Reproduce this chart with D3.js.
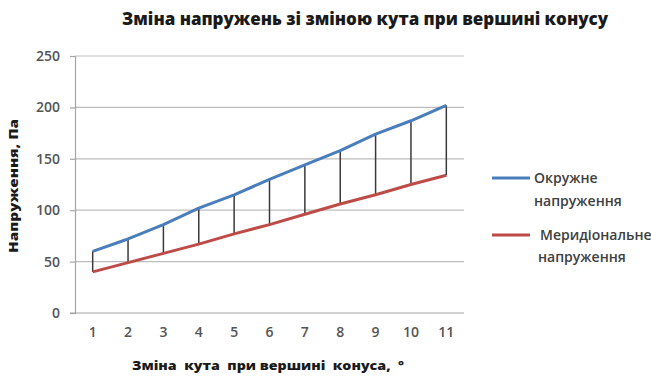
<!DOCTYPE html>
<html>
<head>
<meta charset="utf-8">
<script src="https://cdn.jsdelivr.net/npm/d3@7"></script>
<style>
  body { margin: 0; background: #fff; }
  text { font-family: "Open Sans", "Liberation Sans", sans-serif; }
</style>
</head>
<body>
<div id="chart"></div>
<script>
// Data
var angles = [1, 2, 3, 4, 5, 6, 7, 8, 9, 10, 11];
var hoop = [60, 72, 86, 102, 115, 130, 144, 158, 174, 187, 202];
var meridional = [40, 49, 58, 67, 77, 86, 96, 106, 115, 125, 134];
var yTicks = [0, 50, 100, 150, 200, 250];
var seriesNames = ["Окружне напруження", "Меридіональне напруження"];
var seriesColors = ["#4a7ebb", "#be4b48"];

var W = 651, H = 378;
var plot = {left: 75, right: 464, top: 56, bottom: 313};

var svg = d3.select("#chart").append("svg")
    .attr("width", W)
    .attr("height", H);

// Scales
var x = d3.scaleBand().domain(angles).range([plot.left, plot.right]);
var y = d3.scaleLinear().domain([0, 250]).range([plot.bottom, plot.top]);
var cx = function(d) { return x(d) + x.bandwidth() / 2; };

// Gridlines
svg.append("g").selectAll("line")
    .data(yTicks.slice(1)).enter()
    .append("line")
        .attr("x1", plot.left)
        .attr("x2", plot.right)
        .attr("y1", function(d) { return y(d); })
        .attr("y2", function(d) { return y(d); })
        .attr("stroke", "#bdbdbd")
        .attr("stroke-width", 1.2);

// Y axis
var yAxis = svg.append("g")
    .attr("transform", "translate(" + plot.left + ",0)")
    .call(d3.axisLeft(y).tickValues(yTicks).tickSize(5).tickPadding(10));
yAxis.select(".domain").attr("stroke", "#a6a6a6").attr("stroke-width", 1.2);
yAxis.selectAll(".tick line").attr("stroke", "#a6a6a6").attr("stroke-width", 1.2);
yAxis.selectAll("text")
    .attr("fill", "#555")
    .style("font-size", "14px")
    .style("font-weight", "600")
    .style("font-family", "Open Sans, sans-serif");

// X axis
var xAxis = svg.append("g")
    .attr("transform", "translate(0," + plot.bottom + ")")
    .call(d3.axisBottom(x).tickSize(0).tickPadding(14));
xAxis.select(".domain").attr("stroke", "#a6a6a6").attr("stroke-width", 1.2)
    .attr("d", "M" + (plot.left - 5) + ",0H" + plot.right);
xAxis.selectAll("text")
    .attr("fill", "#555")
    .style("font-size", "14px")
    .style("font-weight", "600")
    .style("font-family", "Open Sans, sans-serif");

// Drop lines (high-low)
svg.append("g").selectAll("line")
    .data(angles).enter()
    .append("line")
        .attr("x1", function(d) { return cx(d); })
        .attr("x2", function(d) { return cx(d); })
        .attr("y1", function(d, i) { return y(hoop[i]); })
        .attr("y2", function(d, i) { return y(meridional[i]); })
        .attr("stroke", "#3a3a3a")
        .attr("stroke-width", 1.5);

// Series lines
var line = d3.line()
    .x(function(d, i) { return cx(angles[i]); })
    .y(function(d) { return y(d); });

[hoop, meridional].forEach(function(s, k) {
    svg.append("path")
        .datum(s)
        .attr("d", line)
        .attr("fill", "none")
        .attr("stroke", seriesColors[k])
        .attr("stroke-width", 3)
        .attr("stroke-linejoin", "round");
});

// Title
svg.append("text")
    .attr("x", 365)
    .attr("y", 25)
    .attr("text-anchor", "middle")
    .attr("textLength", 486)
    .attr("lengthAdjust", "spacingAndGlyphs")
    .style("font-size", "17px")
    .style("font-weight", "800")
    .attr("fill", "#1a1a1a")
    .text("Зміна напружень зі зміною кута при вершині конусу");

// Axis titles
svg.append("text")
    .attr("transform", "translate(18,186) rotate(-90)")
    .attr("text-anchor", "middle")
    .attr("textLength", 134)
    .attr("lengthAdjust", "spacingAndGlyphs")
    .style("font-size", "13px")
    .style("font-weight", "800")
    .attr("fill", "#1a1a1a")
    .text("Напруження, Па");

svg.append("text")
    .attr("x", 268)
    .attr("y", 370)
    .attr("text-anchor", "middle")
    .attr("textLength", 272)
    .attr("lengthAdjust", "spacingAndGlyphs")
    .style("font-size", "13px")
    .style("font-weight", "800")
    .attr("fill", "#1a1a1a")
    .attr("xml:space", "preserve")
    .text("Зміна  кута  при вершині  конуса,  °");

// Legend
var legendY = [178, 235];
var legend = svg.append("g").selectAll("g")
    .data(seriesNames).enter()
    .append("g")
        .attr("transform", function(d, i) { return "translate(492," + legendY[i] + ")"; });

legend.append("line")
    .attr("x1", 0).attr("x2", 38)
    .attr("y1", 0).attr("y2", 0)
    .attr("stroke", function(d, i) { return seriesColors[i]; })
    .attr("stroke-width", 3);

legend.append("text")
    .attr("x", function(d, i) { return i === 0 ? 42 : 48; })
    .attr("y", 5)
    .attr("fill", "#404040")
    .style("font-size", "14px")
    .style("font-weight", "600")
    .text(function(d) { return d.split(" ")[0]; });

legend.append("text")
    .attr("x", function(d, i) { return i === 0 ? 42 : 46; })
    .attr("y", function(d, i) { return i === 0 ? 28 : 27; })
    .attr("fill", "#404040")
    .style("font-size", "14px")
    .style("font-weight", "600")
    .text(function(d) { return d.split(" ")[1]; });
</script>
</body>
</html>
